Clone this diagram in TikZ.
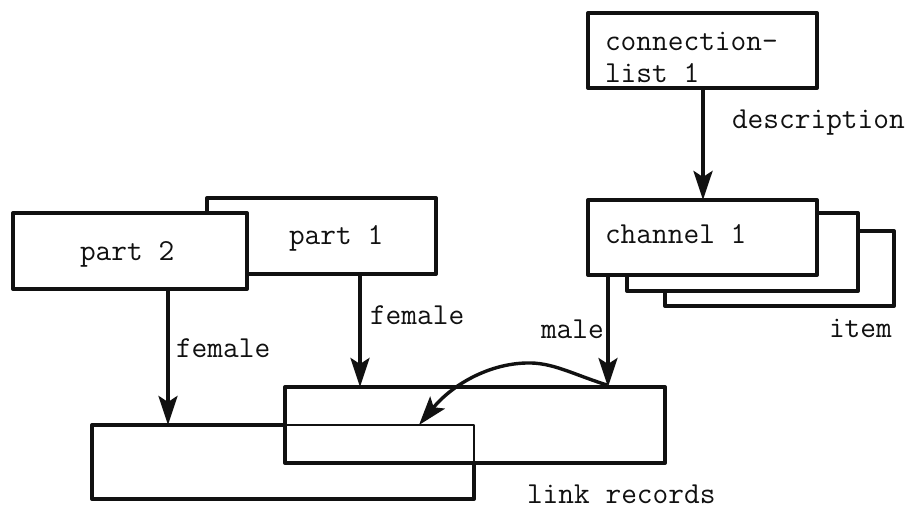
\documentclass[tikz,border=0pt]{standalone}
\usepackage{fontspec}
\usetikzlibrary{arrows.meta}
\tikzset{
  recbox/.style={draw=inkc,line width=4pt,fill=white,inner sep=0pt,outer sep=0pt,line join=round},
  hollowbox/.style={recbox,fill=none},
  txt/.style={inner sep=0pt,outer sep=0pt,anchor=base west,text=inkc,font=\ttfamily\fontsize{30.5}{36}\selectfont\addfontfeature{FakeBold=0.5}},
  conn/.style={draw=inkc,line width=4pt,-{Stealth[length=29pt,width=19pt,inset=6pt]}},
}
\definecolor{inkc}{HTML}{111111}
\begin{document}
\begin{tikzpicture}[x=1pt,y=-1pt]
\useasboundingbox[fill=white] (0,0) rectangle (912,509);
% stacked parts
\node[recbox,minimum width=229pt,minimum height=76pt] (part1) at (321.5,236) {};
\node[recbox,minimum width=234pt,minimum height=76pt] (part2) at (130,251) {};
% stacked channels
\node[recbox,minimum width=229pt,minimum height=75pt] (item3) at (779.5,268.5) {};
\node[recbox,minimum width=231pt,minimum height=78pt] (item2) at (742.5,252) {};
\node[recbox,minimum width=229pt,minimum height=75pt] (channel) at (702.5,237.5) {};
\node[recbox,minimum width=229pt,minimum height=75pt] (conlist) at (702.5,50.5) {};
% link records
\node[hollowbox,minimum width=380pt,minimum height=76pt] (link1) at (475,425) {};
\node[inner sep=0pt,outer sep=0pt,minimum width=382pt,minimum height=74pt] (link2) at (283,462) {};
\coordinate (seam) at (link1.west |- link2.north);
\coordinate (drop) at (link2.east |- link1.south);
\draw[draw=inkc,line width=4pt,line join=round] (seam) -- (link2.north west) -- (link2.south west) -- (link2.south east) -- (drop);
\draw[draw=inkc,line width=1.8pt,line join=round] (seam) -- (link2.north east) -- (drop);
% connectors
\coordinate (p2top) at (168,289);
\coordinate (p2end) at (168,425);
\coordinate (p1top) at (360,274);
\coordinate (p1end) at (360,387);
\coordinate (cltop) at (703,88);
\coordinate (clend) at (703,200);
\coordinate (chtop) at (608,275);
\coordinate (chend) at (608,387);
\draw[conn] (p2top) -- (p2end);
\draw[conn] (p1top) -- (p1end);
\draw[conn] (cltop) -- (clend);
\draw[conn,line width=3.4pt] (chtop) -- (chend);
\coordinate (cvstart) at (607,385);
\coordinate (cvend) at (419,425);
\draw[conn,line width=3.4pt] (cvstart) .. controls (572,374) and (552,362) .. (526,363) .. controls (488,364) and (452,385) .. (cvend);
% texts
\node[txt] (tconn) at (605,50) {connection-};
\node[txt] (tlist) at (605,82) {list 1};
\node[txt] (tdesc) at (732,128) {description};
\node[txt] (tchan) at (605,243) {channel 1};
\node[txt] (titem) at (829,337) {item};
\node[txt] (tmale) at (541,338) {male};
\node[txt] (tlink) at (527,503) {link records};
\node[txt] (tf1) at (370,324) {female};
\node[txt] (tf2) at (176,357) {female};
\node[txt] (tp2) at (80,260) {part 2};
\node[txt] (tp1) at (289,244) {part 1};
\end{tikzpicture}
\end{document}
